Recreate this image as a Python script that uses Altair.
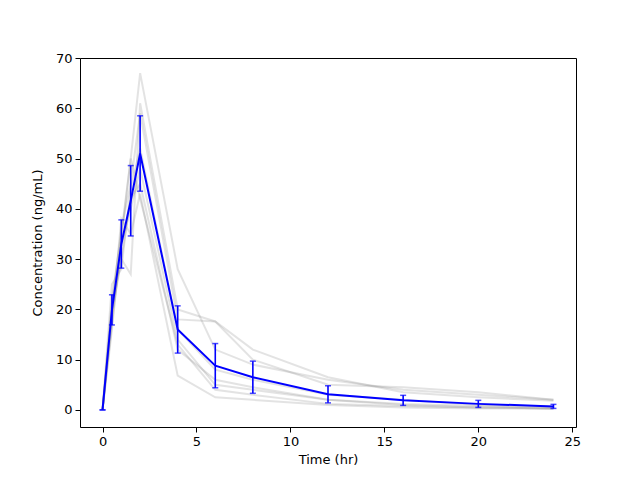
import altair as alt
import pandas as pd

times = [0, 0.5, 1, 1.5, 2, 4, 6, 8, 12, 16, 20, 24]

subjects = {
    "S1": [0, 22, 35, 50, 67, 28, 12, 9, 6, 4, 3, 2],
    "S2": [0, 19, 30, 27, 61, 20, 17.6, 12, 6.5, 3.5, 2.5, 1.8],
    "S3": [0, 21, 36, 45, 59, 18, 17.6, 10, 5, 4.5, 3.5, 2.0],
    "S4": [0, 25, 28, 44, 52, 16, 8, 6, 3, 2, 1, 0.7],
    "S5": [0, 17, 33, 40, 48, 14, 5, 4, 2, 1, 0.5, 0.3],
    "S6": [0, 20, 30, 42, 45, 12, 6, 4.5, 2, 1.2, 0.8, 0.4],
    "S7": [0, 18, 38, 35, 43, 6.8, 2.5, 2, 1, 0.5, 0.3, 0.2],
    "S8": [0, 16, 34, 50, 42, 13, 4, 3, 1.2, 0.8, 0.5, 0.3],
}

mean_conc = [0, 19.9, 33.0, 41.6, 51.0, 16.0, 8.8, 6.5, 3.1, 1.9, 1.2, 0.7]
sd_conc = [0, 3.0, 4.8, 7.0, 7.5, 4.7, 4.4, 3.2, 1.7, 1.0, 0.7, 0.4]

rows = []
for sid, vals in subjects.items():
    for t, v in zip(times, vals):
        rows.append({"subject": sid, "time": t, "conc": v})
ind_df = pd.DataFrame(rows)

mean_df = pd.DataFrame({"time": times, "mean": mean_conc, "sd": sd_conc})

xscale = alt.Scale(domain=[-1.2, 25.2], nice=False, zero=False)
yscale = alt.Scale(domain=[-3.4, 70], nice=False, zero=False)

common = dict(grid=False, tickSize=5, tickWidth=1, labelFontSize=13, titleFontSize=13,
              titleFontWeight="normal", labelFont="DejaVu Sans", titleFont="DejaVu Sans",
              domain=False, tickColor="black", labelColor="black", titleColor="black",
              labelPadding=3)
xaxis = alt.Axis(values=[0, 5, 10, 15, 20, 25], title="Time (hr)", titlePadding=5, **common)
yaxis = alt.Axis(values=[0, 10, 20, 30, 40, 50, 60, 70], title="Concentration (ng/mL)",
                 titlePadding=11, **common)

ind = alt.Chart(ind_df).mark_line(color="gray", opacity=0.22, strokeWidth=2, clip=True).encode(
    x=alt.X("time:Q", scale=xscale, axis=xaxis),
    y=alt.Y("conc:Q", scale=yscale, axis=yaxis),
    detail="subject:N",
)

base = alt.Chart(mean_df).transform_calculate(
    lo="datum.mean - datum.sd", hi="datum.mean + datum.sd"
)

mean_line = base.mark_line(color="blue", strokeWidth=2).encode(
    x=alt.X("time:Q", scale=xscale),
    y=alt.Y("mean:Q", scale=yscale),
)

err = base.mark_rule(color="blue", strokeWidth=1.6).encode(
    x=alt.X("time:Q", scale=xscale),
    y=alt.Y("lo:Q", scale=yscale),
    y2="hi:Q",
)

cap_lo = base.mark_tick(color="blue", orient="horizontal", size=6, thickness=1.5).encode(
    x=alt.X("time:Q", scale=xscale),
    y=alt.Y("lo:Q", scale=yscale),
)
cap_hi = base.mark_tick(color="blue", orient="horizontal", size=6, thickness=1.5).encode(
    x=alt.X("time:Q", scale=xscale),
    y=alt.Y("hi:Q", scale=yscale),
)

chart = alt.layer(ind, mean_line, err, cap_lo, cap_hi).properties(
    width=496, height=369,
    autosize=alt.AutoSizeParams(type="none"),
    padding={"left": 80, "top": 58, "right": 64, "bottom": 53},
    background="white",
).configure_view(stroke="black", strokeWidth=1)

chart.save("out.html", embed_options={"renderer": "svg", "actions": False})
